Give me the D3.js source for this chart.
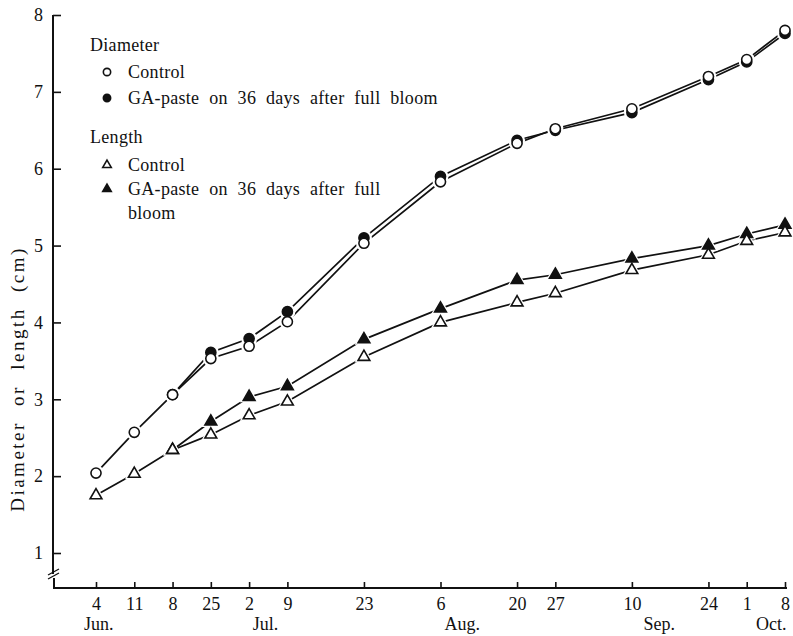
<!DOCTYPE html>
<html>
<head>
<meta charset="utf-8">
<script src="https://d3js.org/d3.v7.min.js"></script>
<style>
    body { margin: 0; background: #fff; }
    svg text { font-family: "Liberation Serif", "DejaVu Serif", serif; fill: #111; }
    .axis text { font-size: 18px; }
    .axis line { stroke: #111; stroke-width: 1.6px; }
    .series { fill: none; stroke: #111; stroke-width: 1.7px; }
</style>
</head>
<body>
<div id="chart"></div>
<script>
    // days counted from 4 June
    var days = [0, 7, 14, 21, 28, 35, 49, 63, 77, 84, 98, 112, 119, 126];
    var dayLabels = ["4", "11", "8", "25", "2", "9", "23", "6", "20", "27", "10", "24", "1", "8"];
    var monthNames = ["Jun.", "Jul.", "Aug.", "Sep.", "Oct."];
    var monthDays = [0.5, 31, 67, 103, 123.5];
    var yTicks = [1, 2, 3, 4, 5, 6, 7, 8];

    var diamControl = [2.04, 2.57, 3.06, 3.53, 3.69, 4.01, 5.03, 5.83, 6.33, 6.52, 6.78, 7.20, 7.42, 7.80];
    var diamGA = [null, null, 3.06, 3.61, 3.79, 4.14, 5.10, 5.90, 6.37, 6.50, 6.73, 7.16, 7.39, 7.76];
    var lenControl = [1.75, 2.03, 2.34, 2.54, 2.79, 2.97, 3.55, 4.00, 4.26, 4.38, 4.68, 4.88, 5.06, 5.17];
    var lenGA = [null, null, 2.34, 2.71, 3.03, 3.17, 3.78, 4.18, 4.55, 4.62, 4.83, 5.00, 5.15, 5.27];

    var W = 793, H = 636;
    var svg = d3.select("#chart").append("svg")
        .attr("width", W)
        .attr("height", H);

    var x = d3.scaleLinear().domain([0, 126]).range([96, 785]);
    var y = d3.scaleLinear().domain([1, 8]).range([553, 15]);
    var axisY = 588;

    // y axis (with break near bottom)
    var gy = svg.append("g")
        .attr("class", "axis")
        .attr("transform", "translate(53,0)")
        .call(d3.axisLeft(y).tickValues(yTicks).tickSize(-8).tickPadding(10).tickFormat(d3.format("d")));
    gy.select(".domain").remove();

    svg.append("line").attr("x1", 53).attr("x2", 53).attr("y1", y(8)).attr("y2", 574)
        .attr("stroke", "#111").attr("stroke-width", 2);
    svg.append("line").attr("x1", 54).attr("x2", 54).attr("y1", 578).attr("y2", axisY)
        .attr("stroke", "#111").attr("stroke-width", 2);
    [0, 4].forEach(function (o) {
        svg.append("line")
            .attr("x1", 48).attr("y1", 575 + o)
            .attr("x2", 59).attr("y2", 569 + o)
            .attr("stroke", "#111").attr("stroke-width", 1.3);
    });

    // x axis
    var gx = svg.append("g")
        .attr("class", "axis")
        .attr("transform", "translate(0," + axisY + ")")
        .call(d3.axisBottom(x).tickValues(days).tickSize(-6).tickPadding(9)
            .tickFormat(function (d, i) { return dayLabels[i]; }));
    gx.select(".domain").remove();
    svg.append("line").attr("x1", 53).attr("x2", 787).attr("y1", axisY).attr("y2", axisY)
        .attr("stroke", "#111").attr("stroke-width", 2);

    svg.append("g").selectAll("text")
        .data(monthNames)
        .enter().append("text")
        .attr("x", function (d, i) { return x(monthDays[i]); })
        .attr("y", 630)
        .attr("text-anchor", "middle")
        .style("font-size", "18px")
        .text(function (d) { return d; });

    svg.append("text")
        .attr("transform", "translate(24,379) rotate(-90)")
        .attr("text-anchor", "middle")
        .style("font-size", "19px")
        .style("letter-spacing", "2.5px")
        .style("word-spacing", "8px")
        .text("Diameter or length (cm)");

    // series
    var line = d3.line()
        .defined(function (d) { return d[1] != null; })
        .x(function (d) { return x(d[0]); })
        .y(function (d) { return y(d[1]); });

    var series = [
        { vals: diamGA, shape: "circle", filled: true },
        { vals: diamControl, shape: "circle", filled: false },
        { vals: lenGA, shape: "triangle", filled: true },
        { vals: lenControl, shape: "triangle", filled: false }
    ];

    series.forEach(function (s) {
        s.pts = days.map(function (d, i) { return [d, s.vals[i]]; })
            .filter(function (p) { return p[1] != null; });
        svg.append("path").attr("class", "series").attr("d", line(s.pts));
    });

    var circ = d3.symbol().type(d3.symbolCircle);
    var tri = d3.symbol().type(d3.symbolTriangle);
    function symPath(s, size) {
        return s.shape === "circle" ? circ.size(size)() : tri.size(size * 0.75)();
    }

    // white halos so the lines stop short of the markers
    series.forEach(function (s) {
        svg.append("g").selectAll("path")
            .data(s.pts).enter().append("path")
            .attr("d", symPath(s, 200))
            .attr("transform", function (p) { return "translate(" + x(p[0]) + "," + y(p[1]) + ")"; })
            .attr("fill", "#fff");
    });
    series.forEach(function (s) {
        svg.append("g").selectAll("path")
            .data(s.pts).enter().append("path")
            .attr("d", symPath(s, 80))
            .attr("transform", function (p) { return "translate(" + x(p[0]) + "," + y(p[1]) + ")"; })
            .attr("fill", s.filled ? "#111" : "#fff")
            .attr("stroke", "#111")
            .attr("stroke-width", 1.6);
    });

    // legend
    var legend = svg.append("g").style("font-size", "18px")
        .style("letter-spacing", "0.3px").style("word-spacing", "5px");
    legend.append("text").attr("x", 90).attr("y", 51).text("Diameter");
    legend.append("text").attr("x", 90).attr("y", 143).text("Length");
    var legItems = [
        { s: series[1], y: 72, lines: ["Control"] },
        { s: series[0], y: 98, lines: ["GA-paste on 36 days after full bloom"] },
        { s: series[3], y: 165, lines: ["Control"] },
        { s: series[2], y: 189, lines: ["GA-paste on 36 days after full", "bloom"] }
    ];
    legItems.forEach(function (it) {
        legend.append("path")
            .attr("d", symPath(it.s, 42))
            .attr("transform", "translate(107," + it.y + ")")
            .attr("fill", it.s.filled ? "#111" : "#fff")
            .attr("stroke", "#111")
            .attr("stroke-width", 1.6);
        it.lines.forEach(function (t, k) {
            legend.append("text")
                .attr("x", 128)
                .attr("y", it.y + 6 + k * 24)
                .text(t);
        });
    });
</script>
</body>
</html>
